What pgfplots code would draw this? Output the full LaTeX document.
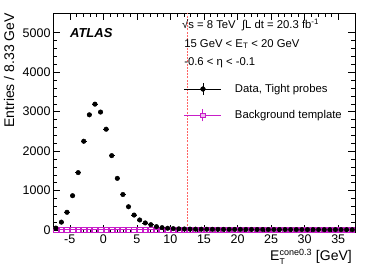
\documentclass[border=0pt]{standalone}
\usepackage{fontspec}
\setmainfont{Liberation Sans}
\usepackage{pgfplots}
\pgfplotsset{compat=1.18}
\definecolor{mag}{RGB}{200,30,200}
\definecolor{cutred}{RGB}{255,100,100}
\pgfplotstableread{
x y
-7.083 50
-6.25 200
-5.417 450
-4.583 870
-3.75 1455
-2.917 2250
-2.083 2920
-1.25 3190
-0.417 2990
0.417 2555
1.25 1885
2.083 1310
2.917 900
3.75 590
4.583 380
5.417 255
6.25 180
7.083 135
7.917 85
8.75 60
9.583 45
10.417 35
11.25 30
12.083 26
12.917 23
13.75 21
14.583 20
15.417 19
16.25 18
17.083 17
17.917 16
18.75 16
19.583 15
20.417 15
21.25 14
22.083 14
22.917 13
23.75 13
24.583 12
25.417 12
26.25 12
27.083 11
27.917 11
28.75 11
29.583 10
30.417 10
31.25 10
32.083 10
32.917 9
33.75 9
34.583 9
35.417 9
36.25 8
37.083 8
}\datatable
\pgfplotstableread{
x y
-7.083 4
-6.25 5
-5.417 5
-4.583 6
-3.75 6
-2.917 7
-2.083 7
-1.25 8
-0.417 8
0.417 9
1.25 9
2.083 10
2.917 10
3.75 10
4.583 11
5.417 11
6.25 11
7.083 11
7.917 11
8.75 11
9.583 11
10.417 11
11.25 11
12.083 11
12.917 11
13.75 11
14.583 10
15.417 10
16.25 10
17.083 10
17.917 10
18.75 10
19.583 10
20.417 9
21.25 9
22.083 9
22.917 9
23.75 9
24.583 9
25.417 9
26.25 8
27.083 8
27.917 8
28.75 8
29.583 8
30.417 8
31.25 8
32.083 7
32.917 7
33.75 7
34.583 7
35.417 7
36.25 7
37.083 7
}\bkgtable
\pgfplotstableread{
x y
12.5 -50
12.5 5500
}\cuttable
\begin{document}
\begin{tikzpicture}[x=1pt,y=1pt]
\useasboundingbox (-53,-36) rectangle (321,232);
\begin{axis}[
  at={(0,0)}, anchor=south west,
  scale only axis, width=302pt, height=219pt,
  xmin=-7.5, xmax=37.5, ymin=-50, ymax=5500,
  xtick={-5,0,...,35}, minor x tick num=4,
  ytick={0,1000,...,5000}, minor y tick num=4,
  tick align=inside, major tick length=7pt, minor tick length=3.5pt,
  tick style={black, line width=0.5pt},
  axis line style={black, line width=0.6pt},
  /pgf/number format/assume math mode=true,
  /pgf/number format/1000 sep={},
  scaled y ticks=false,
  ticklabel style={font=\fontsize{12.5}{14}\selectfont},
  xticklabel style={yshift=1pt},
  yticklabel style={xshift=1pt},
  xlabel={E$_{\mbox{\fontsize{8.5}{10}\selectfont T}}^{\mbox{\fontsize{9}{10}\selectfont cone0.3}}$ [GeV]},
  xlabel style={at={(axis description cs:0.99,0)}, anchor=north east, yshift=-17pt, inner sep=0pt, font=\fontsize{14}{16}\selectfont},
  ylabel={Entries / 8.33 GeV},
  ylabel style={at={(axis description cs:-0.129,1)}, anchor=base east, inner sep=0pt, font=\fontsize{14}{16}\selectfont},
  legend style={draw=none, fill=none, at={(rel axis cs:0.433,0.683)}, anchor=north west,
    font=\fontsize{11.3}{13}\selectfont, row sep=13.5pt, inner sep=0pt,
    nodes={inner sep=0pt, text height=8.5pt, text depth=2.5pt}},
  legend cell align=left,
  clip=false,
]
\addplot[color=cutred, mark=none, line width=1.3pt, dash pattern=on 2pt off 1.2pt, forget plot] table[x=x,y=y] {\cuttable};
\addplot[mag, only marks, mark=square, mark size=2.3pt, mark options={line width=0.6pt}, forget plot,
  error bars/.cd, x dir=both, x fixed=0.41667, error mark=none,
  error bar style={mag, line width=0.8pt}]
  table[x=x,y=y] {\bkgtable};
\addplot[black, only marks, mark=*, mark size=2.3pt, forget plot,
  error bars/.cd, x dir=both, x fixed=0.41667, error mark=none,
  error bar style={black, line width=0.8pt}]
  table[x=x,y=y] {\datatable};
\addlegendimage{black, legend image code/.code={
  \draw[black, line width=0.8pt] (0pt,0pt) -- (37pt,0pt);
  \draw[black, line width=0.8pt] (18.5pt,-6pt) -- (18.5pt,6pt);
  \fill[black] (18.5pt,0pt) circle (2.4pt);}}
\addlegendentry{\hspace*{13pt}Data, Tight probes}
\addlegendimage{mag, legend image code/.code={
  \draw[mag, line width=1pt] (0pt,0pt) -- (37pt,0pt);
  \draw[mag, line width=1pt] (18.5pt,-6pt) -- (18.5pt,6pt);
  \draw[mag, line width=0.6pt, fill=mag!30] (16.2pt,-2.3pt) rectangle (20.8pt,2.3pt);}}
\addlegendentry{\hspace*{13pt}Background template}
\node[anchor=west, inner sep=0pt, font=\fontsize{13}{15}\selectfont\bfseries\itshape] at (rel axis cs:0.056,0.909) {ATLAS};
\node[anchor=west, inner sep=0pt, font=\fontsize{11.3}{13}\selectfont] at (rel axis cs:0.427,0.945) {√s = 8 TeV \ ∫L dt = 20.3 fb\textsuperscript{-1}};
\node[anchor=west, inner sep=0pt, font=\fontsize{11.3}{13}\selectfont] at (rel axis cs:0.434,0.858) {15 GeV < E\textsubscript{T} < 20 GeV};
\node[anchor=west, inner sep=0pt, font=\fontsize{11.3}{13}\selectfont] at (rel axis cs:0.434,0.772) {-0.6 < η < -0.1};
\end{axis}
\end{tikzpicture}
\end{document}
